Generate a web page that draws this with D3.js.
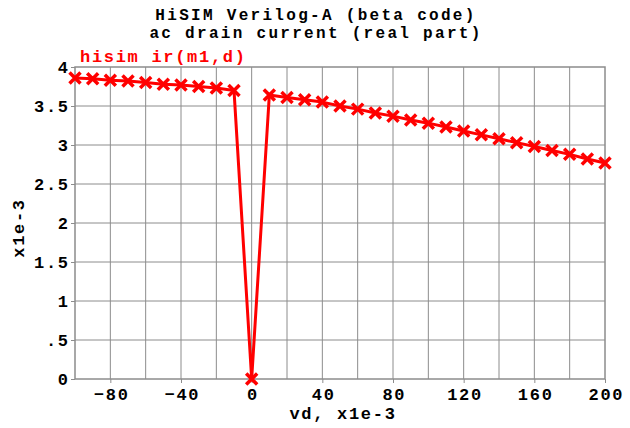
<!DOCTYPE html>
<html lang="en">
<head>
<meta charset="UTF-8">
<title>HiSIM Verilog-A ac drain current</title>
<script src="https://d3js.org/d3.v7.min.js"></script>
<style>
  body { margin: 0; background: #fff; }
  text { font-family: "Liberation Mono", "DejaVu Sans Mono", monospace; font-weight: bold; letter-spacing: 1.7px; }
</style>
</head>
<body>
<script>
// data (x in 1e-3 V, y in 1e-3 A)
var vd = [-100, -90, -80, -70, -60, -50, -40, -30, -20, -10, 0,
          10, 20, 30, 40, 50, 60, 70, 80, 90, 100,
          110, 120, 130, 140, 150, 160, 170, 180, 190, 200];
var ir = [3.86, 3.85, 3.83, 3.82, 3.80, 3.78, 3.77, 3.75, 3.73, 3.70, 0,
          3.64, 3.61, 3.58, 3.55, 3.50, 3.46, 3.41, 3.37, 3.32, 3.28,
          3.23, 3.18, 3.13, 3.08, 3.03, 2.98, 2.93, 2.88, 2.82, 2.77];
var xTicks = [-80, -40, 0, 40, 80, 120, 160, 200];
var xGrid = [-80, -60, -40, -20, 0, 20, 40, 60, 80, 100, 120, 140, 160, 180];
var yTicks = [0, 0.5, 1, 1.5, 2, 2.5, 3, 3.5, 4];
var yLabels = ["0", ".5", "1", "1.5", "2", "2.5", "3", "3.5", "4"];

var W = 630, H = 428;
var margin = {top: 67, right: 25, bottom: 49, left: 75},
    width = W - margin.left - margin.right,
    height = H - margin.top - margin.bottom;

var svg = d3.select("body").append("svg")
    .attr("width", W).attr("height", H);

var g = svg.append("g")
    .attr("transform", "translate(" + margin.left + "," + margin.top + ")");

var x = d3.scaleLinear().domain([-100, 200]).range([0, width]);
var y = d3.scaleLinear().domain([0, 4]).range([height, 0]);

// grid
g.append("g").selectAll("line").data(xGrid).enter().append("line")
    .attr("x1", function(d) { return x(d); }).attr("x2", function(d) { return x(d); })
    .attr("y1", 0).attr("y2", height)
    .attr("stroke", "#8c8c8c").attr("stroke-width", 1);
g.append("g").selectAll("line").data(yTicks.slice(1, -1)).enter().append("line")
    .attr("y1", function(d) { return y(d); }).attr("y2", function(d) { return y(d); })
    .attr("x1", 0).attr("x2", width)
    .attr("stroke", "#8c8c8c").attr("stroke-width", 1);
g.append("rect").attr("width", width).attr("height", height)
    .attr("fill", "none").attr("stroke", "#8c8c8c").attr("stroke-width", 1.5);

// axes
var xAxis = g.append("g")
    .attr("transform", "translate(0," + height + ")")
    .call(d3.axisBottom(x).tickValues(xTicks).tickSize(4).tickSizeOuter(0).tickPadding(5));
var yAxis = g.append("g")
    .call(d3.axisLeft(y).tickValues(yTicks).tickSize(4).tickSizeOuter(0).tickPadding(3)
      .tickFormat(function(d, i) { return yLabels[i]; }));
[xAxis, yAxis].forEach(function(a) {
  a.select(".domain").remove();
  a.selectAll("line").attr("stroke", "#8c8c8c");
  a.selectAll("text").attr("fill", "#000").style("font-size", "17px")
    .style("font-family", "'Liberation Mono', monospace").style("font-weight", "bold");
});
xAxis.selectAll("text").attr("dx", "0.85px");
yAxis.selectAll("text").attr("dx", "1.7px");

// series line
var line = d3.line()
    .x(function(d) { return x(d[0]); })
    .y(function(d) { return y(d[1]); });
var pts = vd.map(function(v, i) { return [v, ir[i]]; });

g.append("path").datum(pts)
    .attr("d", line)
    .attr("fill", "none").attr("stroke", "#ff0000").attr("stroke-width", 3)
    .attr("stroke-linejoin", "round");

// x markers
var s = 5.5;
g.append("g").selectAll("path").data(pts).enter().append("path")
    .attr("d", function(d) {
      var cx = x(d[0]), cy = y(d[1]);
      return "M" + (cx - s) + "," + (cy - s) + "L" + (cx + s) + "," + (cy + s) +
             "M" + (cx - s) + "," + (cy + s) + "L" + (cx + s) + "," + (cy - s);
    })
    .attr("stroke", "#ff0000").attr("stroke-width", 3.5).attr("fill", "none");

// titles
svg.append("text").attr("x", 316).attr("y", 20).attr("text-anchor", "middle")
    .style("font-size", "16px").style("letter-spacing", "2.3px")
    .text("HiSIM Verilog-A (beta code)");
svg.append("text").attr("x", 316).attr("y", 38).attr("text-anchor", "middle")
    .style("font-size", "16px").style("letter-spacing", "2.3px")
    .text("ac drain current (real part)");
svg.append("text").attr("x", 80).attr("y", 62).attr("fill", "#ff0000")
    .style("font-size", "17px").text("hisim ir(m1,d)");
svg.append("text").attr("x", 343).attr("y", 419).attr("text-anchor", "middle")
    .style("font-size", "17px").text("vd, x1e-3");
svg.append("text").attr("transform", "translate(24,228) rotate(-90)")
    .attr("text-anchor", "middle").style("font-size", "17px").text("x1e-3");
</script>
</body>
</html>
